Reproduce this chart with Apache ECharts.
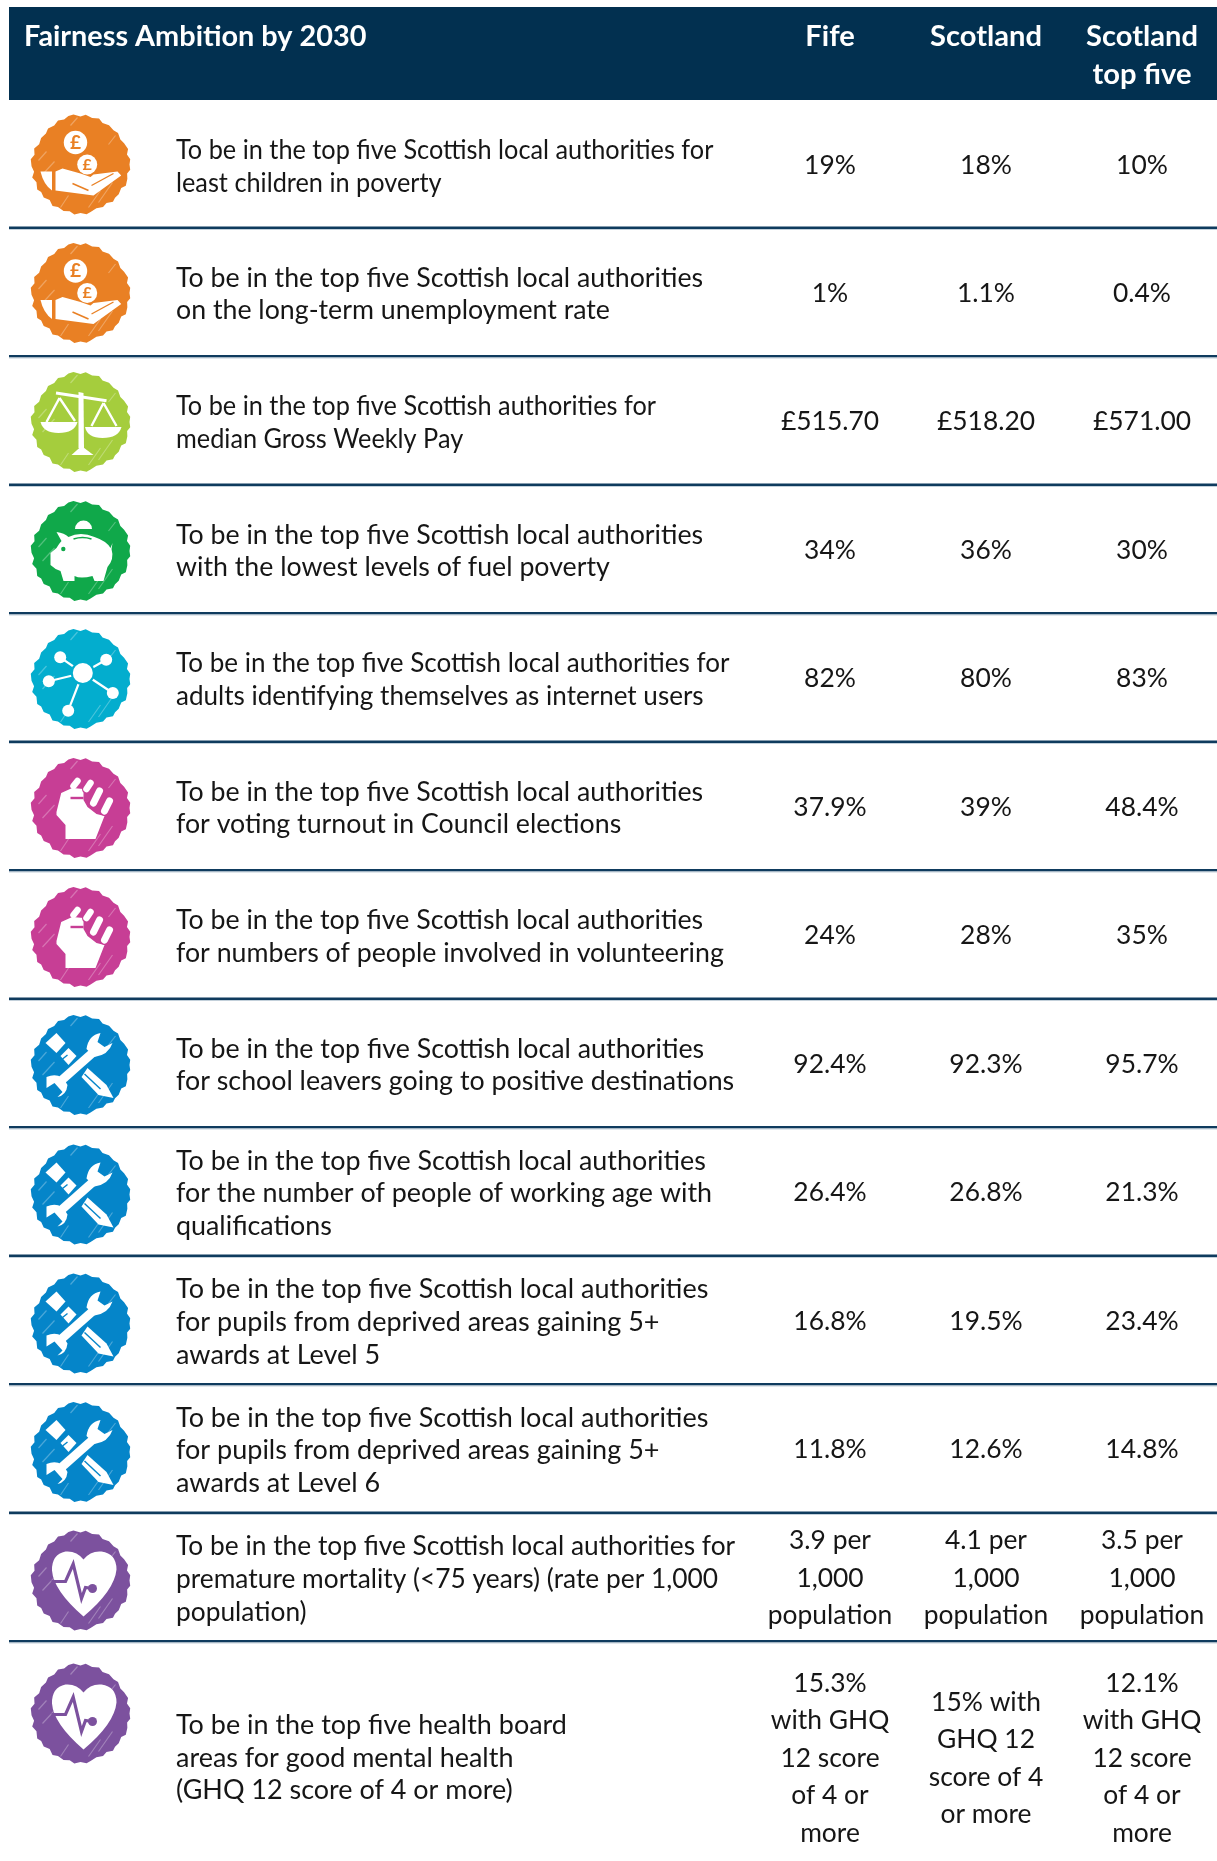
<!DOCTYPE html>
<html>
<head>
<meta charset="utf-8">
<title>Fairness Ambition by 2030</title>
<script src="https://cdn.jsdelivr.net/npm/echarts@6/dist/echarts.min.js"></script>
<style>
  html, body { margin: 0; padding: 0; background: #ffffff; }
  #chart { width: 1217px; height: 1861px; }
</style>
</head>
<body>
<div id="chart"></div>
<script>
// table content
const tableTitle = 'Fairness Ambition by 2030'
const columnLabels = ['Fife', 'Scotland', 'Scotland\ntop five']
const ambitions = [
  'To be in the top five Scottish local authorities for\nleast children in poverty',
  'To be in the top five Scottish local authorities\non the long-term unemployment rate',
  'To be in the top five Scottish authorities for\nmedian Gross Weekly Pay',
  'To be in the top five Scottish local authorities\nwith the lowest levels of fuel poverty',
  'To be in the top five Scottish local authorities for\nadults identifying themselves as internet users',
  'To be in the top five Scottish local authorities\nfor voting turnout in Council elections',
  'To be in the top five Scottish local authorities\nfor numbers of people involved in volunteering',
  'To be in the top five Scottish local authorities\nfor school leavers going to positive destinations',
  'To be in the top five Scottish local authorities\nfor the number of people of working age with\nqualifications',
  'To be in the top five Scottish local authorities\nfor pupils from deprived areas gaining 5+\nawards at Level 5',
  'To be in the top five Scottish local authorities\nfor pupils from deprived areas gaining 5+\nawards at Level 6',
  'To be in the top five Scottish local authorities for\npremature mortality (<75 years) (rate per 1,000\npopulation)',
  'To be in the top five health board\nareas for good mental health\n(GHQ 12 score of 4 or more)'
]
const fifeValues = ['19%', '1%', '£515.70', '34%', '82%', '37.9%', '24%', '92.4%', '26.4%', '16.8%', '11.8%',
  '3.9 per\n1,000\npopulation', '15.3%\nwith GHQ\n12 score\nof 4 or\nmore']
const scotlandValues = ['18%', '1.1%', '£518.20', '36%', '80%', '39%', '28%', '92.3%', '26.8%', '19.5%', '12.6%',
  '4.1 per\n1,000\npopulation', '15% with\nGHQ 12\nscore of 4\nor more']
const topFiveValues = ['10%', '0.4%', '£571.00', '30%', '83%', '48.4%', '35%', '95.7%', '21.3%', '23.4%', '14.8%',
  '3.5 per\n1,000\npopulation', '12.1%\nwith GHQ\n12 score\nof 4 or\nmore']
const iconKinds = ['coins', 'coins', 'scales', 'piggy', 'network', 'fist', 'fist', 'tools', 'tools', 'tools', 'tools', 'heart', 'heart']

// layout (page pixels, the axes below are 1:1 with the page)
const ruleRows = [226.5, 355, 483.5, 612, 740.5, 869, 997.5, 1126, 1254.5, 1383, 1511.5, 1640]
const rowTops = [100].concat(ruleRows)
const rowBottoms = ruleRows.concat([1873])
const columnCenters = [830, 986, 1142]
const iconCenterX = 80.5
const iconCenterY = [164.5, 293, 422, 551, 679, 808, 937, 1065, 1194.5, 1323.5, 1452, 1580.5, 1713.5]
// the source squeezes some rows a little more than others
const ambitionFit = [0.937, 0.99, 0.937, 0.99, 0.965, 0.99, 0.99, 0.992, 0.995, 1, 1, 0.975, 0.998]
const FONT = 'Lato'
const TEXT_COLOR = '#161616'
const NAVY = '#023050'

const iconColors = {
  coins: '#e98024', scales: '#a5cd3d', piggy: '#10a84a', network: '#03adce',
  fist: '#c73e95', tools: '#0585c9', heart: '#7c519e'
}

// rough scribbled edge of the round badges: angle in degrees, radius
const blobEdge = [[0, 49], [6, 50], [11, 47.5], [17, 49], [25, 50], [30, 47], [38, 48.5], [44, 48], [49, 49.5], [56, 46.5],
  [62, 48], [70, 46.5], [78, 48.5], [83, 50], [90, 48.5], [97, 50.5], [103, 48], [110, 49.5], [118, 48], [124, 50],
  [131, 47], [138, 49.5], [145, 48], [150, 50], [158, 47.5], [165, 50], [171, 47], [178, 49], [186, 50], [192, 47],
  [199, 49], [206, 46], [214, 47.5], [222, 46.5], [228, 48.5], [236, 47], [243, 49.5], [250, 48], [256, 50], [262, 50.5],
  [270, 48], [276, 50], [284, 48], [292, 49.5], [298, 47], [306, 48.5], [314, 47.5], [320, 49], [328, 47], [334, 48.5],
  [342, 50], [348, 47.5], [354, 50]]
const blobPoints = blobEdge.map(([deg, r]) => {
  const a = (deg / 180) * Math.PI
  return [50 + r * Math.cos(a), 50 + r * Math.sin(a)]
})
const streaks = 'M12 60L24 47M8 46L16 37M68 88L82 68M58 93L70 76M78 30L85 21M40 11L47 3M30 93L38 81'

// badge glyphs, drawn in a 100x100 box. bg = cut out in the badge colour
const glyphs = {
  coins: [
    { d: 'M56.7 28A11.7 11.7 0 1 1 33.3 28A11.7 11.7 0 1 1 56.7 28Z' },
    { d: 'M66.7 50A10 10 0 1 1 46.7 50A10 10 0 1 1 66.7 50Z' },
    { d: 'M10 57L21.5 57L21.5 76Q13 70 10 57Z' },
    { d: 'M25 57L32 54L50 59L60 62.5L63 60L87 57L90.7 61L63 81L25 76Z' },
    { d: 'M42 69L58 76', stroke: 'bg', w: 1.6 },
    { d: 'M61 71L83 59', stroke: 'bg', w: 1.4 },
    { text: '£', x: 45, y: 28, size: 19 },
    { text: '£', x: 56.7, y: 50, size: 16 }
  ],
  scales: [
    { d: 'M25.5 21L76 28.7', stroke: 'fg', w: 3 },
    { d: 'M48 20L53 21L53.5 76L48 76Z' },
    { d: 'M41 83L63 83L51 74Z' },
    { d: 'M29 26L16 50M29 26L44.5 49M73 31L61 54M73 31L86 54', stroke: 'fg', w: 2.4 },
    { d: 'M10 50L47 50Q44 61 28 61Q13 61 10 50Z' },
    { d: 'M54.5 55L91 55Q88 66 72 66Q57 66 54.5 55Z' }
  ],
  piggy: [
    { d: 'M44.5 28A8.5 8.5 0 0 1 61.5 28Z' },
    { d: 'M26 31Q34 32 38 36Q50 30 64 36Q76 40 80 47L82 42L81 48Q84 58 77 66L73 80L64 80L62 75Q50 78 44 75L44 80L33 80L30 70Q24 68 20 64L20 52L26 47Q29 42 31 40Z' },
    { d: 'M43 38Q52 35 61 38', stroke: 'bg', w: 1.5 },
    { d: 'M35 48A2.2 2.2 0 1 1 30.6 48A2.2 2.2 0 1 1 35 48Z', bgFill: true }
  ],
  network: [
    { d: 'M52.3 44L18.3 52.3M52.3 44L82.3 64M52.3 44L37.7 81.7M52.3 44L75.7 30.7M52.3 44L29.7 28.3', stroke: 'fg', w: 2.2 },
    { d: 'M64.3 44A12 12 0 1 1 40.3 44A12 12 0 1 1 64.3 44Z', bgFill: true },
    { d: 'M62.3 44A10 10 0 1 1 42.3 44A10 10 0 1 1 62.3 44Z' },
    { d: 'M24.3 52.3A6 6 0 1 1 12.3 52.3A6 6 0 1 1 24.3 52.3Z' },
    { d: 'M88.3 64A6 6 0 1 1 76.3 64A6 6 0 1 1 88.3 64Z' },
    { d: 'M43.7 81.7A6 6 0 1 1 31.7 81.7A6 6 0 1 1 43.7 81.7Z' },
    { d: 'M81.7 30.7A6 6 0 1 1 69.7 30.7A6 6 0 1 1 81.7 30.7Z' },
    { d: 'M35.7 28.3A6 6 0 1 1 23.7 28.3A6 6 0 1 1 35.7 28.3Z' }
  ],
  fist: [
    { d: 'M26 54L30.7 35L41.7 30L53 31L53 42L57 49L66 56L74 58L65 81L35 81L35 67L26 57Z' },
    { d: 'M40 40L53 40', stroke: 'bg', w: 2.4 },
    { d: 'M43 28L47 23', stroke: 'fg', w: 6.5, round: true },
    { d: 'M60 25L56 31', stroke: 'bg', w: 9, round: true },
    { d: 'M60 25L56 31', stroke: 'fg', w: 6.5, round: true },
    { d: 'M69 33L63 45', stroke: 'bg', w: 9.5, round: true },
    { d: 'M69 33L63 45', stroke: 'fg', w: 7, round: true },
    { d: 'M79 43L74 53', stroke: 'bg', w: 9.5, round: true },
    { d: 'M79 43L74 53', stroke: 'fg', w: 7, round: true }
  ],
  tools: [
    { d: 'M15 28L26 18L35 28L26 38Z' },
    { d: 'M30 41L38 33L46 41L38 50Z' },
    { d: 'M32 44L37 40', stroke: 'bg', w: 1.4 },
    { d: 'M51 62L57 53L76 70L83 83L68 80Z' },
    { d: 'M54 59L70 74', stroke: 'bg', w: 1.4 },
    { d: 'M63 37L28 68', stroke: 'fg', w: 9 },
    { d: 'M70 18Q58 20 56 34L64 42Q78 40 82 28L74 32L67 27Z' },
    { d: 'M16 62Q30 56 37 70Q36 80 27 82L32 77L24 68L16 73Z' }
  ],
  heart: [
    { d: 'M53 29Q46 20 35 21Q21 24 21.5 40Q23 60 53 86Q84 60 86 39Q86 23 71 21Q60 20 53 29Z' },
    { d: 'M21 51L35 51L42.7 33.5L51 68L55 57L62 58', stroke: 'bg', w: 3.2 },
    { d: 'M66.5 58A4.5 4.5 0 1 1 57.5 58A4.5 4.5 0 1 1 66.5 58Z', bgFill: true }
  ]
}

function renderBand(params, api) {
  const a = api.coord([api.value(0), api.value(1)])
  const b = api.coord([api.value(2), api.value(3)])
  return { type: 'rect', shape: { x: a[0], y: a[1], width: b[0] - a[0], height: b[1] - a[1] }, style: { fill: NAVY } }
}

function renderRule(params, api) {
  const y = api.coord([0, api.value(0)])[1]
  const x0 = api.coord([9, 0])[0]
  const x1 = api.coord([1217, 0])[0]
  return {
    type: 'group',
    children: [
      { type: 'rect', shape: { x: x0, y: y, width: x1 - x0, height: 2.5 }, style: { fill: '#0f3b5e' } },
      { type: 'rect', shape: { x: x0, y: y + 2.5, width: x1 - x0, height: 1 }, style: { fill: '#c3d0da' } }
    ]
  }
}

function renderIcon(params, api) {
  const p = api.coord([api.value(0), api.value(1)])
  const kind = iconKinds[params.dataIndex]
  const color = iconColors[kind]
  const children = [
    { type: 'polygon', shape: { points: blobPoints }, style: { fill: color } },
    { type: 'path', shape: { pathData: streaks }, style: { fill: null, stroke: 'rgba(255,255,255,0.28)', lineWidth: 1.2 } }
  ]
  glyphs[kind].forEach((g) => {
    if (g.text) {
      children.push({
        type: 'text', x: g.x, y: g.y,
        style: { text: g.text, fill: color, font: '700 ' + g.size + 'px ' + FONT, textAlign: 'center', textVerticalAlign: 'middle' }
      })
    } else if (g.stroke) {
      children.push({
        type: 'path', shape: { pathData: g.d },
        style: { fill: null, stroke: g.stroke === 'bg' ? color : '#fff', lineWidth: g.w, lineCap: g.round ? 'round' : 'butt' }
      })
    } else {
      children.push({ type: 'path', shape: { pathData: g.d }, style: { fill: g.bgFill ? color : '#fff' } })
    }
  })
  return { type: 'group', x: p[0] - 50, y: p[1] - 50, children: children }
}

// one text cell: x, y are axis values, extra per-series styling comes in through opts
function textCell(opts) {
  return function (params, api) {
    const p = api.coord([api.value(0), api.value(1)])
    return {
      type: 'text', x: p[0], y: p[1],
      scaleX: opts.fit ? opts.fit[params.dataIndex] : opts.scaleX || 1,
      style: {
        text: api.value(2), fill: opts.color || TEXT_COLOR,
        font: opts.weight + ' ' + opts.size + 'px ' + FONT,
        lineHeight: opts.lineHeight, textAlign: opts.align, textVerticalAlign: 'middle'
      }
    }
  }
}

const rowMid = (i) => (rowTops[i] + rowBottoms[i]) / 2 + 2

const ambitionCells = ambitions.map((t, i) => [176, i === 12 ? 1758 : rowMid(i) + 1.5, t])
const valueCells = []
;[fifeValues, scotlandValues, topFiveValues].forEach((col, c) => {
  col.forEach((t, i) => valueCells.push([columnCenters[c], i === 12 ? 1758 : rowMid(i), t]))
})
const headerCells = columnLabels.map((t, c) => [columnCenters[c], c === 2 ? 56 : 37, t])

const chart = echarts.init(document.getElementById('chart'))
chart.setOption({
  animation: false,
  backgroundColor: '#ffffff',
  grid: { left: 0, top: 0, width: 1217, height: 1861, containLabel: false },
  xAxis: { type: 'value', min: 0, max: 1217, show: false },
  yAxis: { type: 'value', min: 0, max: 1861, inverse: true, show: false },
  series: [
    { type: 'custom', silent: true, renderItem: renderBand, data: [[9, 7, 1217, 100]], encode: { x: [0, 2], y: [1, 3] } },
    { type: 'custom', silent: true, renderItem: renderRule, data: ruleRows.map((y) => [y]), encode: { y: 0 } },
    {
      type: 'custom', silent: true, renderItem: renderIcon,
      data: iconKinds.map((k, i) => [iconCenterX, iconCenterY[i]]), encode: { x: 0, y: 1 }
    },
    {
      type: 'custom', silent: true,
      renderItem: textCell({ size: 28, weight: 700, color: '#ffffff', align: 'left', lineHeight: 38, scaleX: 1.03 }),
      dimensions: ['x', 'y', { name: 't', type: 'ordinal' }],
      data: [[24, 37, tableTitle]], encode: { x: 0, y: 1 }
    },
    {
      type: 'custom', silent: true,
      renderItem: textCell({ size: 28, weight: 700, color: '#ffffff', align: 'center', lineHeight: 38, scaleX: 1.04 }),
      dimensions: ['x', 'y', { name: 't', type: 'ordinal' }],
      data: headerCells, encode: { x: 0, y: 1 }
    },
    {
      type: 'custom', silent: true,
      renderItem: textCell({ size: 27, weight: 400, align: 'left', lineHeight: 32.6, fit: ambitionFit }),
      dimensions: ['x', 'y', { name: 't', type: 'ordinal' }],
      data: ambitionCells, encode: { x: 0, y: 1 }
    },
    {
      type: 'custom', silent: true,
      renderItem: textCell({ size: 27.5, weight: 400, align: 'center', lineHeight: 37.4, scaleX: 0.96 }),
      dimensions: ['x', 'y', { name: 't', type: 'ordinal' }],
      data: valueCells, encode: { x: 0, y: 1 }
    }
  ]
})
window.addEventListener('resize', () => chart.resize())
</script>
</body>
</html>
